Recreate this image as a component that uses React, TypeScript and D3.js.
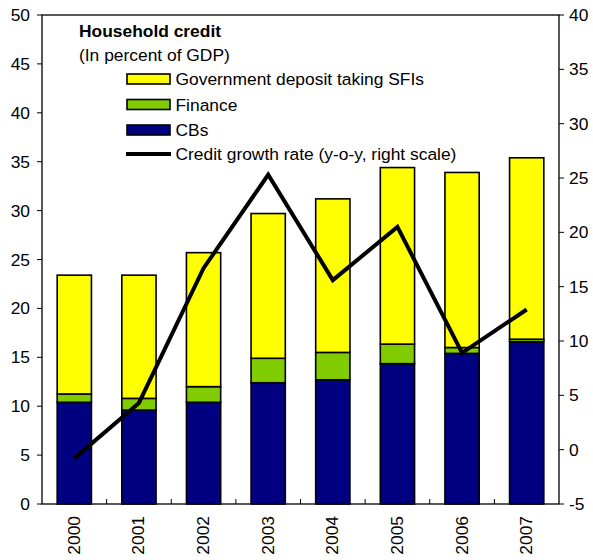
import React from "react";
import * as d3 from "d3";

const years = ["2000", "2001", "2002", "2003", "2004", "2005", "2006", "2007"];
const cbs = [10.4, 9.6, 10.4, 12.4, 12.7, 14.35, 15.4, 16.6];
const finance = [0.85, 1.2, 1.6, 2.5, 2.8, 2.0, 0.6, 0.25];
const govSFI = [12.15, 12.6, 13.7, 14.8, 15.7, 18.05, 17.9, 18.55];
const growth = [-0.8, 4.3, 16.7, 25.3, 15.6, 20.5, 8.9, 12.9];
const leftTicks = [0, 5, 10, 15, 20, 25, 30, 35, 40, 45, 50];
const rightTicks = [-5, 0, 5, 10, 15, 20, 25, 30, 35, 40];

const W = 593, H = 560;
const L = 42, R = 559, T = 15, B = 504;
const FONT = "'Liberation Sans', Arial, sans-serif";
const FS = 17.4;

const seriesKeys = ["cbs", "finance", "gov"];
const colors: Record<string, string> = { cbs: "#000080", finance: "#80CC00", gov: "#FFFF00" };

export default function App() {
  const x = d3.scaleBand<string>().domain(years).range([L, R]).paddingInner(0.47).paddingOuter(0.235);
  const xc = d3.scaleBand<string>().domain(years).range([L, R]);
  const yL = d3.scaleLinear().domain([0, 50]).range([B, T]);
  const yR = d3.scaleLinear().domain([-5, 40]).range([B, T]);

  const rows = years.map((y, i) => ({ year: y, cbs: cbs[i], finance: finance[i], gov: govSFI[i] }));
  const stack = d3.stack<any>().keys(seriesKeys)(rows);

  const line = d3
    .line<number>()
    .x((_, i) => (xc(years[i]) as number) + xc.bandwidth() / 2)
    .y((d) => yR(d));

  const legend = [
    { label: "Government deposit taking SFIs", color: colors.gov, y: 79 },
    { label: "Finance", color: colors.finance, y: 104.5 },
    { label: "CBs", color: colors.cbs, y: 130 },
  ];

  return (
    <svg width={W} height={H} style={{ position: "absolute", left: 0, top: 0, fontFamily: FONT }}>
      <rect x={0} y={0} width={W} height={H} fill="#fff" />
      {stack.map((s) =>
        s.map((d, i) => (
          <rect
            key={s.key + i}
            x={x(years[i])}
            width={x.bandwidth()}
            y={yL(d[1])}
            height={yL(d[0]) - yL(d[1])}
            fill={colors[s.key]}
            stroke="#000"
            strokeWidth={1.6}
          />
        ))
      )}
      <path d={line(growth) || ""} fill="none" stroke="#000" strokeWidth={4} strokeLinejoin="miter" />
      <rect x={L} y={T} width={R - L} height={B - T} fill="none" stroke="#000" strokeWidth={1.3} />
      {leftTicks.map((t) => (
        <g key={"l" + t}>
          <line x1={L - 5} x2={L} y1={yL(t)} y2={yL(t)} stroke="#000" strokeWidth={1} />
          <text x={L - 12} y={yL(t)} dy="0.35em" textAnchor="end" fontSize={FS} fill="#000">
            {t}
          </text>
        </g>
      ))}
      {rightTicks.map((t) => (
        <g key={"r" + t}>
          <line x1={R} x2={R + 5} y1={yR(t)} y2={yR(t)} stroke="#000" strokeWidth={1} />
          <text x={R + 10} y={yR(t)} dy="0.35em" textAnchor="start" fontSize={FS} fill="#000">
            {t}
          </text>
        </g>
      ))}
      {years.slice(1).map((yv) => (
        <line key={"xt" + yv} x1={xc(yv)} x2={xc(yv)} y1={B} y2={B - 5} stroke="#000" strokeWidth={1} />
      ))}
      {years.map((yv) => {
        const cx = (xc(yv) as number) + xc.bandwidth() / 2;
        return (
          <text
            key={"xl" + yv}
            transform={`translate(${cx + 5.5},${B + 12}) rotate(-90)`}
            textAnchor="end"
            fontSize={FS}
            fill="#000"
          >
            {yv}
          </text>
        );
      })}
      <text x={79} y={36.5} fontSize={FS} fontWeight="bold" fill="#000">
        Household credit
      </text>
      <text x={79} y={61} fontSize={FS} fill="#000">
        (In percent of GDP)
      </text>
      {legend.map((lg) => (
        <g key={lg.label}>
          <rect x={127} y={lg.y - 5} width={43} height={10} fill={lg.color} stroke="#000" strokeWidth={1.6} />
          <text x={175.5} y={lg.y} dy="0.36em" fontSize={FS} fill="#000">
            {lg.label}
          </text>
        </g>
      ))}
      <line x1={126} x2={171} y1={154} y2={154} stroke="#000" strokeWidth={4} />
      <text x={175.5} y={154} dy="0.36em" fontSize={FS} fill="#000">
        Credit growth rate (y-o-y, right scale)
      </text>
    </svg>
  );
}
